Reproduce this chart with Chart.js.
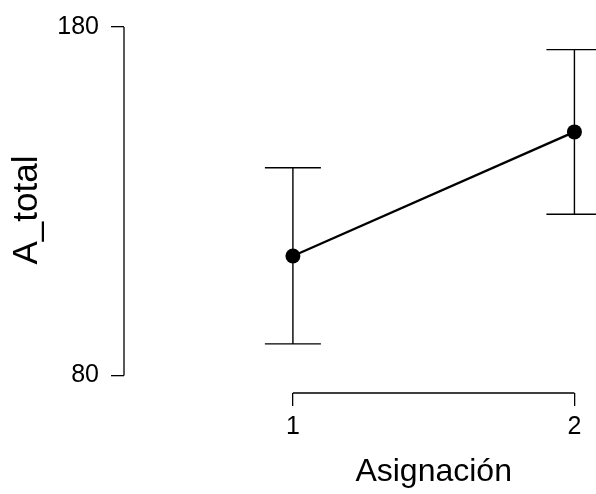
<!DOCTYPE html>
<html>
<head>
<meta charset="utf-8">
<script src="https://cdn.jsdelivr.net/npm/chart.js@4/dist/chart.umd.min.js"></script>
<style>
  html, body { margin: 0; padding: 0; background: #fff; }
  #wrap { width: 596px; height: 494px; }
</style>
</head>
<body>
<div id="wrap"><canvas id="c" width="596" height="494"></canvas></div>
<script>
// Data
const categories = [1, 2];
const means = [114.3, 149.9];
const upper = [139.6, 173.5];
const lower = [89.1, 126.3];
const yTickValues = [80, 180];
const xTitle = 'Asignación';
const yTitle = 'A_total';

const FONT = '"Liberation Sans", Arial, Helvetica, sans-serif';

const points = categories.map((c, i) => ({ x: c, y: means[i] }));

const errorBarsAndAxes = {
  id: 'errorBarsAndAxes',
  beforeDatasetsDraw(chart) {
    const ctx = chart.ctx;
    const xs = chart.scales.x, ys = chart.scales.y;
    ctx.save();
    ctx.strokeStyle = '#000';
    // axis lines (R style, spanning only the tick range)
    ctx.lineWidth = 1.3;
    ctx.beginPath();
    const yl = chart.chartArea.left;
    ctx.moveTo(yl, ys.getPixelForValue(yTickValues[0]));
    ctx.lineTo(yl, ys.getPixelForValue(yTickValues[yTickValues.length - 1]));
    const xb = chart.chartArea.bottom;
    ctx.moveTo(xs.getPixelForValue(categories[0]), xb);
    ctx.lineTo(xs.getPixelForValue(categories[categories.length - 1]), xb);
    ctx.stroke();
    // error bars
    ctx.lineWidth = 1.4;
    const cap = 28;
    categories.forEach((c, i) => {
      const px = xs.getPixelForValue(c);
      const pu = ys.getPixelForValue(upper[i]);
      const pl = ys.getPixelForValue(lower[i]);
      ctx.beginPath();
      ctx.moveTo(px, pu); ctx.lineTo(px, pl);
      ctx.moveTo(px - cap, pu); ctx.lineTo(px + cap, pu);
      ctx.moveTo(px - cap, pl); ctx.lineTo(px + cap, pl);
      ctx.stroke();
    });
    ctx.restore();
  },
  afterDraw(chart) {
    // x-axis title centred under the category range (as in the reference)
    const ctx = chart.ctx;
    const xs = chart.scales.x;
    const cx = (xs.getPixelForValue(categories[0]) + xs.getPixelForValue(categories[categories.length - 1])) / 2;
    ctx.save();
    ctx.fillStyle = '#000';
    ctx.font = '32px ' + FONT;
    ctx.textAlign = 'center';
    ctx.textBaseline = 'middle';
    ctx.fillText(xTitle, cx, 472);
    ctx.restore();
  }
};

new Chart(document.getElementById('c'), {
  type: 'line',
  data: {
    datasets: [{
      data: points,
      borderColor: '#000',
      borderWidth: 2.3,
      pointRadius: 7.5,
      pointHoverRadius: 7.5,
      pointBackgroundColor: '#000',
      pointBorderColor: '#000',
      pointBorderWidth: 0,
      clip: false,
      tension: 0
    }]
  },
  options: {
    responsive: false,
    animation: false,
    events: [],
    layout: { padding: { top: 24, right: 7, bottom: 0, left: 0 } },
    plugins: { legend: { display: false }, tooltip: { enabled: false } },
    scales: {
      x: {
        type: 'linear',
        min: 0.4,
        max: 2.05,
        afterBuildTicks(scale) { scale.ticks = categories.map(v => ({ value: v })); },
        afterFit(scale) { scale.height = 101; },
        ticks: {
          color: '#000',
          padding: 6,
          maxRotation: 0,
          autoSkip: false,
          font: { family: FONT, size: 25 },
          callback: v => String(v)
        },
        grid: { display: true, drawOnChartArea: false, drawTicks: true, tickLength: 13, color: '#000', lineWidth: 1.3 },
        border: { display: false },
        title: { display: false }
      },
      y: {
        type: 'linear',
        min: 75,
        max: 180,
        afterBuildTicks(scale) { scale.ticks = yTickValues.map(v => ({ value: v })); },
        afterFit(scale) { scale.width = 124; },
        ticks: {
          color: '#000',
          padding: 12,
          autoSkip: false,
          font: { family: FONT, size: 25 },
          callback: v => String(v)
        },
        grid: { display: true, drawOnChartArea: false, drawTicks: true, tickLength: 13, color: '#000', lineWidth: 1.3 },
        border: { display: false },
        title: {
          display: true,
          text: yTitle,
          color: '#000',
          font: { family: FONT, size: 35 },
          padding: { top: 6, bottom: 0 }
        }
      }
    }
  },
  plugins: [errorBarsAndAxes]
});
</script>
</body>
</html>
